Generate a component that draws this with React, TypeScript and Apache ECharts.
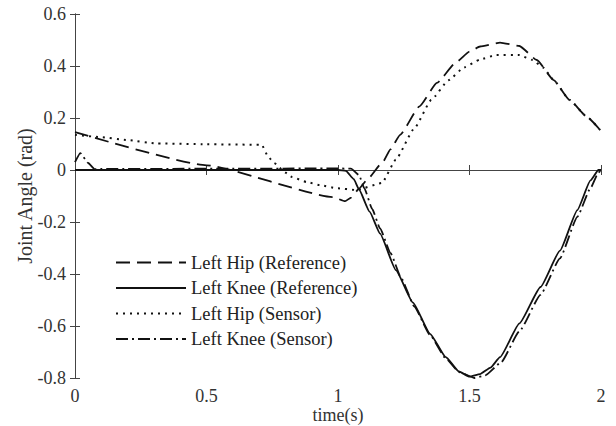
import React, { useEffect, useRef } from "react";
import * as echarts from "echarts";

// Left Hip (Reference) - dashed
const hipRefT = [0, 0.5, 0.98, 1.027, 1.05, 1.08, 1.11, 1.17, 1.2, 1.236, 1.31, 1.376, 1.45, 1.5, 1.54, 1.616, 1.69, 1.756, 1.82, 1.88, 1.947, 2.0];
const hipRefV = [0.146, 0.018, -0.104, -0.12, -0.106, -0.072, -0.038, 0.03, 0.08, 0.135, 0.245, 0.335, 0.415, 0.455, 0.475, 0.49, 0.477, 0.423, 0.346, 0.27, 0.204, 0.15];

// Left Knee (Reference) - solid
const kneeRefT = [0, 0.5, 1.0, 1.03, 1.06, 1.08, 1.12, 1.16, 1.22, 1.285, 1.35, 1.41, 1.46, 1.5, 1.54, 1.58, 1.616, 1.69, 1.77, 1.844, 1.91, 1.96, 1.99, 2.0];
const kneeRefV = [0, 0, 0, -0.003, -0.035, -0.075, -0.16, -0.245, -0.385, -0.51, -0.63, -0.72, -0.775, -0.795, -0.785, -0.76, -0.72, -0.59, -0.45, -0.31, -0.154, -0.04, 0, 0];

// Left Hip (Sensor) - dotted
const hipSenT = [0, 0.095, 0.2, 0.31, 0.5, 0.71, 0.735, 0.757, 0.8, 0.825, 0.88, 0.93, 0.995, 1.07, 1.167, 1.22, 1.29, 1.355, 1.42, 1.48, 1.54, 1.6, 1.69, 1.74, 1.78, 1.82, 1.88, 1.947, 2.0];
const hipSenV = [0.135, 0.127, 0.115, 0.102, 0.099, 0.097, 0.05, 0.027, -0.01, -0.027, -0.046, -0.058, -0.07, -0.077, -0.05, 0.04, 0.16, 0.27, 0.345, 0.395, 0.425, 0.442, 0.442, 0.423, 0.394, 0.346, 0.27, 0.204, 0.15];

// Left Knee (Sensor) - dash-dot
const kneeSenT = [0, 0.02, 0.05, 0.075, 0.1, 0.5, 1.0, 1.05, 1.08, 1.1, 1.13, 1.16, 1.2, 1.24, 1.29, 1.35, 1.41, 1.46, 1.52, 1.56, 1.62, 1.69, 1.77, 1.844, 1.91, 1.96, 1.99, 2.0];
const kneeSenV = [0.03, 0.065, 0.027, 0.003, 0.004, 0.005, 0.006, 0.005, -0.02, -0.07, -0.15, -0.225, -0.32, -0.415, -0.525, -0.635, -0.725, -0.777, -0.8, -0.79, -0.74, -0.62, -0.48, -0.34, -0.18, -0.07, -0.01, 0];

const seriesNames = ["Left Hip (Reference)", "Left Knee (Reference)", "Left Hip (Sensor)", "Left Knee (Sensor)"];
const xTicks = [0, 0.5, 1, 1.5, 2];
const yTicks = [-0.8, -0.6, -0.4, -0.2, 0, 0.2, 0.4, 0.6];

const zip = (t: number[], v: number[]) => t.map((x, i) => [x, v[i]]);

export default function App() {
  const ref = useRef<HTMLDivElement>(null);
  useEffect(() => {
    if (!ref.current) return;
    const chart = echarts.init(ref.current, undefined, { renderer: "svg" });
    const font = "Liberation Serif";
    const axisCommon = {
      axisLine: { show: true, lineStyle: { color: "#444", width: 1 } },
      axisTick: { show: true, inside: true, length: 5, lineStyle: { color: "#444" } },
      splitLine: { show: false },
    };
    const lineSeries = (name: string, data: number[][], type: any, width: number) => ({
      name,
      type: "line",
      data,
      showSymbol: false,
      symbol: "none",
      smooth: 0.15,
      smoothMonotone: "x",
      lineStyle: { color: "#111", width, type },
      itemStyle: { color: "#111" },
      z: 3,
    });
    chart.setOption({
      animation: false,
      backgroundColor: "#fff",
      textStyle: { fontFamily: font },
      grid: { left: 75, right: 15, top: 14, bottom: 48, containLabel: false, outerBoundsMode: "none" },
      legend: {
        orient: "vertical",
        left: 110,
        top: 248,
        itemWidth: 70,
        itemHeight: 14,
        itemGap: 6.5,
        itemStyle: { opacity: 0 },
        textStyle: { fontFamily: font, fontSize: 18.5, color: "#222" },
        data: seriesNames,
      },
      xAxis: [
        {
          type: "value",
          min: xTicks[0],
          max: xTicks[xTicks.length - 1],
          interval: 0.5,
          position: "bottom",
          name: "time(s)",
          nameLocation: "middle",
          nameGap: 28,
          nameMoveOverlap: false,
          nameTextStyle: { fontFamily: font, fontSize: 18, color: "#333" },
          axisLabel: { fontFamily: font, fontSize: 18, color: "#333", margin: 9, formatter: (v: number) => String(v) },
          ...axisCommon,
        },
        {
          type: "value",
          min: xTicks[0],
          max: xTicks[xTicks.length - 1],
          interval: 0.5,
          position: "top",
          axisLabel: { show: false },
          ...axisCommon,
        },
      ],
      yAxis: [
        {
          type: "value",
          min: yTicks[0],
          max: yTicks[yTicks.length - 1],
          interval: 0.2,
          position: "left",
          name: "Joint Angle (rad)",
          nameLocation: "middle",
          nameGap: 40,
          nameMoveOverlap: false,
          nameTextStyle: { fontFamily: font, fontSize: 20, color: "#333" },
          axisLabel: {
            fontFamily: font,
            fontSize: 18,
            color: "#333",
            margin: 9,
            formatter: (v: number) => String(Math.round(v * 10) / 10),
          },
          ...axisCommon,
        },
        {
          type: "value",
          min: yTicks[0],
          max: yTicks[yTicks.length - 1],
          interval: 0.2,
          position: "right",
          axisLabel: { show: false },
          ...axisCommon,
        },
      ],
      series: [
        lineSeries(seriesNames[0], zip(hipRefT, hipRefV), [14, 7], 1.8),
        lineSeries(seriesNames[1], zip(kneeRefT, kneeRefV), "solid", 1.8),
        lineSeries(seriesNames[2], zip(hipSenT, hipSenV), [2, 5], 2),
        lineSeries(seriesNames[3], zip(kneeSenT, kneeSenV), [12, 4, 2, 4], 1.8),
      ],
    });
    return () => chart.dispose();
  }, []);
  return <div ref={ref} style={{ position: "fixed", left: 0, top: 0, width: 616, height: 426 }} />;
}
